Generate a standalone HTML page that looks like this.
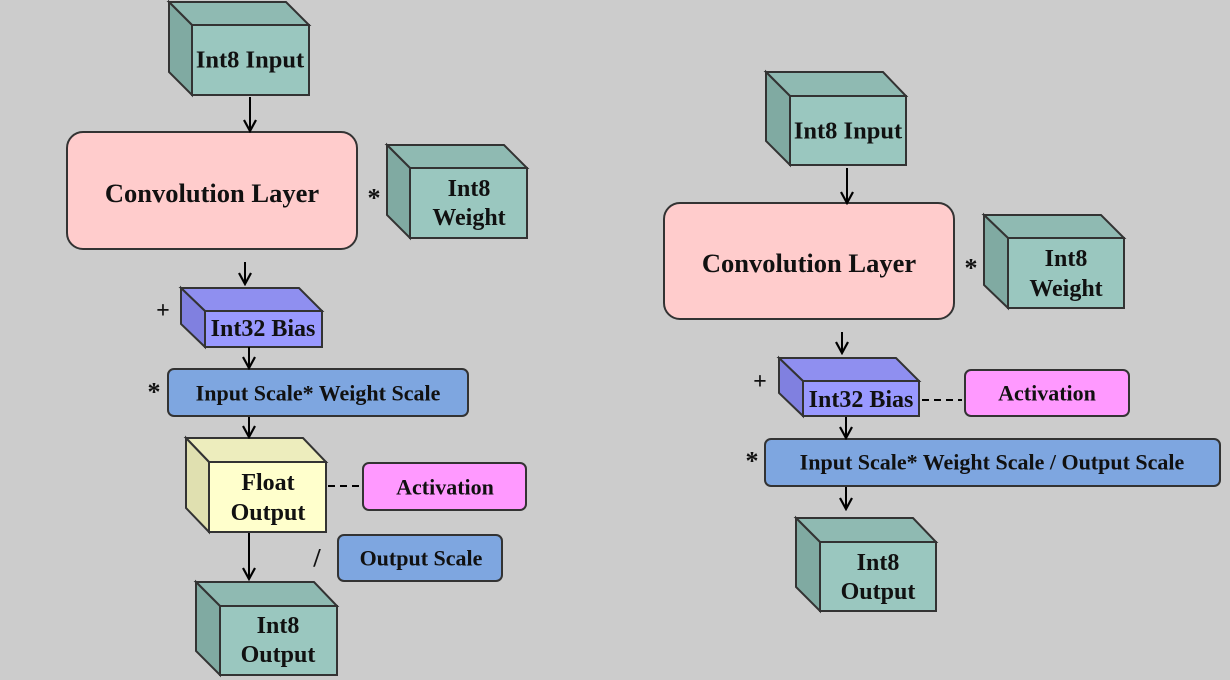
<!DOCTYPE html>
<html><head><style>
html,body{margin:0;padding:0;background:#cccccc;}
svg{display:block;}
text{font-family:"Liberation Serif",serif;font-weight:bold;fill:#111;text-anchor:middle;dominant-baseline:central;}
</style></head><body>
<svg width="1230" height="680" viewBox="0 0 1230 680" xmlns="http://www.w3.org/2000/svg">
<defs>
<marker id="ah" markerWidth="14" markerHeight="14" refX="12" refY="7" orient="auto" markerUnits="userSpaceOnUse">
<path d="M1,1 L12,7 L1,13" fill="none" stroke="#000" stroke-width="2.2"/>
</marker>
</defs>
<g stroke="#333" stroke-width="2">
<polygon points="169,2 286,2 309,25 192,25" fill="#8fbab2"/>
<polygon points="169,2 192,25 192,95 169,72" fill="#80aaa2"/>
<rect x="192" y="25" width="117" height="70" fill="#9ac7bf"/>
<rect x="67" y="132" width="290" height="117" rx="16" fill="#ffcccc"/>
<polygon points="387,145 504,145 527,168 410,168" fill="#8fbab2"/>
<polygon points="387,145 410,168 410,238 387,215" fill="#80aaa2"/>
<rect x="410" y="168" width="117" height="70" fill="#9ac7bf"/>
<polygon points="181,288 299,288 322,311 205,311" fill="#8f8ff0"/>
<polygon points="181,288 205,311 205,347 181,324" fill="#8080e0"/>
<rect x="205" y="311" width="117" height="36" fill="#9999ff"/>
<rect x="168" y="369" width="300" height="47" rx="6" fill="#7ea6e0"/>
<polygon points="186,438 303,438 326,462 209,462" fill="#ededbd"/>
<polygon points="186,438 209,462 209,532 186,508" fill="#e0e0b0"/>
<rect x="209" y="462" width="117" height="70" fill="#ffffcc"/>
<rect x="363" y="463" width="163" height="47" rx="6" fill="#ff99ff"/>
<rect x="338" y="535" width="164" height="46" rx="6" fill="#7ea6e0"/>
<polygon points="196,582 314,582 337,606 220,606" fill="#8fbab2"/>
<polygon points="196,582 220,606 220,675 196,651" fill="#80aaa2"/>
<rect x="220" y="606" width="117" height="69" fill="#9ac7bf"/>

<polygon points="766,72 883,72 906,96 790,96" fill="#8fbab2"/>
<polygon points="766,72 790,96 790,165 766,141" fill="#80aaa2"/>
<rect x="790" y="96" width="116" height="69" fill="#9ac7bf"/>
<rect x="664" y="203" width="290" height="116" rx="16" fill="#ffcccc"/>
<polygon points="984,215 1101,215 1124,238 1008,238" fill="#8fbab2"/>
<polygon points="984,215 1008,238 1008,308 984,285" fill="#80aaa2"/>
<rect x="1008" y="238" width="116" height="70" fill="#9ac7bf"/>
<polygon points="779,358 896,358 919,381 803,381" fill="#8f8ff0"/>
<polygon points="779,358 803,381 803,416 779,393" fill="#8080e0"/>
<rect x="803" y="381" width="116" height="35" fill="#9999ff"/>
<rect x="965" y="370" width="164" height="46" rx="6" fill="#ff99ff"/>
<rect x="765" y="439" width="455" height="47" rx="6" fill="#7ea6e0"/>
<polygon points="796,518 913,518 936,542 820,542" fill="#8fbab2"/>
<polygon points="796,518 820,542 820,611 796,587" fill="#80aaa2"/>
<rect x="820" y="542" width="116" height="69" fill="#9ac7bf"/>
</g>
<g stroke="#000" stroke-width="2" marker-end="url(#ah)">
<line x1="250" y1="97" x2="250" y2="131"/>
<line x1="245" y1="262" x2="245" y2="284"/>
<line x1="249" y1="347" x2="249" y2="368"/>
<line x1="249" y1="417" x2="249" y2="437"/>
<line x1="249" y1="533" x2="249" y2="579"/>
<line x1="847" y1="168" x2="847" y2="203"/>
<line x1="842" y1="332" x2="842" y2="353"/>
<line x1="846" y1="417" x2="846" y2="438"/>
<line x1="846" y1="487" x2="846" y2="509"/>
</g>
<g stroke="#000" stroke-width="2" stroke-dasharray="7,5">
<line x1="328" y1="486" x2="362" y2="486"/>
<line x1="922" y1="400" x2="962" y2="400"/>
</g>
<text x="250" y="60" font-size="24.5">Int8 Input</text>
<text x="212" y="193" font-size="26.5">Convolution Layer</text>
<text x="469" y="189" font-size="24">Int8</text>
<text x="469" y="218" font-size="24">Weight</text>
<text x="374" y="198" font-size="26">*</text>
<text x="163" y="311" font-size="24" font-weight="normal">+</text>
<text x="263" y="329" font-size="24">Int32 Bias</text>
<text x="154" y="392" font-size="26">*</text>
<text x="318" y="393" font-size="22">Input Scale* Weight Scale</text>
<text x="268" y="483" font-size="24">Float</text>
<text x="268" y="513" font-size="24">Output</text>
<text x="445" y="487" font-size="22">Activation</text>
<text x="317" y="558" font-size="26" font-weight="normal">/</text>
<text x="421" y="558" font-size="22">Output Scale</text>
<text x="278" y="626" font-size="24">Int8</text>
<text x="278" y="655" font-size="24">Output</text>

<text x="848" y="131" font-size="24.5">Int8 Input</text>
<text x="809" y="263" font-size="26.5">Convolution Layer</text>
<text x="1066" y="259" font-size="24">Int8</text>
<text x="1066" y="289" font-size="24">Weight</text>
<text x="971" y="268" font-size="26">*</text>
<text x="760" y="382" font-size="24" font-weight="normal">+</text>
<text x="861" y="400" font-size="24">Int32 Bias</text>
<text x="1047" y="393" font-size="22">Activation</text>
<text x="752" y="461" font-size="26">*</text>
<text x="992" y="462" font-size="22">Input Scale* Weight Scale / Output Scale</text>
<text x="878" y="563" font-size="24">Int8</text>
<text x="878" y="592" font-size="24">Output</text>
</svg>
</body></html>
